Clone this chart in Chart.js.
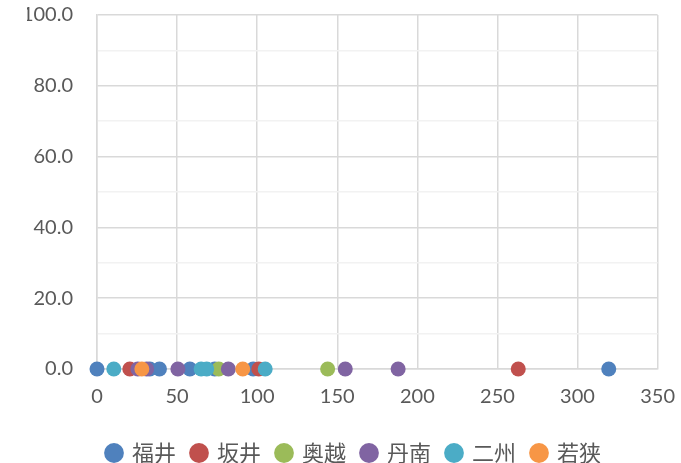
<!DOCTYPE html>
<html>
<head>
<meta charset="utf-8">
<script src="https://cdn.jsdelivr.net/npm/chart.js@4.4.1/dist/chart.umd.min.js"></script>
<style>
  html, body { margin: 0; padding: 0; background: #fff; }
  #wrap { width: 681px; height: 463px; }
</style>
</head>
<body>
<div id="wrap"><canvas id="myChart" width="681" height="463"></canvas></div>
<script>
// 地域ごとの点 (x値, y値はすべて 0)
const fukui_x   = [0, 33, 39, 58, 73.5, 97.5, 319.5];
const sakai_x   = [20.5, 101, 263];
const okuetsu_x = [76, 144];
const tannan_x  = [25.5, 31, 50.5, 82, 155, 188];
const nishu_x   = [10.5, 65, 68.5, 105];
const wakasa_x  = [28, 91];

const areaNames  = ['福井', '坂井', '奥越', '丹南', '二州', '若狭'];
const areaColors = ['#4F81BD', '#C0504D', '#9BBB59', '#8064A2', '#4BACC6', '#F79646'];
const areaValues = [fukui_x, sakai_x, okuetsu_x, tannan_x, nishu_x, wakasa_x];

const xTicksMax = 350;
const yTicksMax = 100;

function toPoints(arr) {
    return arr.map(function(v) {
        return { x: v, y: 0 };
    });
}

// 後の系列ほど手前に描く
const datasets = areaNames.map(function(name, i) {
    return {
        label: name,
        data: toPoints(areaValues[i]),
        backgroundColor: areaColors[i],
        borderColor: areaColors[i],
        pointRadius: 7.5,
        pointHoverRadius: 7.5,
        pointBorderWidth: 0,
        clip: false,
        order: areaNames.length - i
    };
});

const numFont = { family: 'Lato, "Noto Sans CJK JP", sans-serif', size: 20 };

const ctx = document.getElementById('myChart').getContext('2d');
const config = {
    type: 'scatter',
    data: { datasets: datasets },
    options: {
        responsive: false,
        animation: false,
        layout: { padding: { left: 27, right: 0, top: 15, bottom: -11 } },
        plugins: {
            legend: {
                position: 'bottom',
                labels: {
                    usePointStyle: true,
                    pointStyle: 'circle',
                    boxWidth: 14,
                    boxHeight: 14,
                    padding: 16,
                    color: '#595959',
                    font: { family: '"Noto Sans CJK JP", sans-serif', size: 22 },
                    // 凡例は系列の順番どおり
                    sort: function(a, b) { return a.datasetIndex - b.datasetIndex; }
                }
            },
            tooltip: { enabled: false }
        },
        scales: {
            x: {
                type: 'linear',
                min: 0,
                max: xTicksMax,
                ticks: { stepSize: 50, color: '#595959', font: numFont, padding: 6 },
                grid: { color: '#d9d9d9', lineWidth: 1.5, tickLength: 10, tickColor: 'rgba(0,0,0,0)' },
                border: { color: '#d9d9d9', width: 1.5 },
                afterFit: function(scale) { scale.height = 57; }
            },
            y: {
                type: 'linear',
                min: 0,
                max: yTicksMax,
                ticks: {
                    stepSize: 10,
                    color: '#595959',
                    font: numFont,
                    padding: 2,
                    callback: function(v) { return v % 20 === 0 ? v.toFixed(1) : ''; }
                },
                grid: {
                    tickLength: 22,
                    tickColor: 'rgba(0,0,0,0)',
                    lineWidth: 1.5,
                    color: function(c) {
                        return c.tick && c.tick.value % 20 === 0 ? '#d9d9d9' : '#f2f2f2';
                    }
                },
                border: { color: '#d9d9d9', width: 1.5 },
                afterFit: function(scale) { scale.width = 70; }
            }
        }
    }
};
const myChart = new Chart(ctx, config);
</script>
</body>
</html>
